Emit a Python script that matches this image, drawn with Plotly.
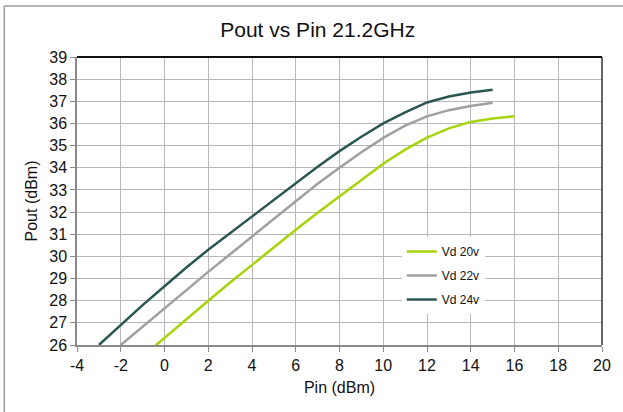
import plotly.graph_objects as go

# Output power vs input power at 21.2 GHz for three drain voltages
pin_20 = [-1, 0, 1, 2, 3, 4, 5, 6, 7, 8, 9, 10, 11, 12, 13, 14, 15, 16]
pout_20 = [25.48, 26.33, 27.17, 28.0, 28.82, 29.62, 30.42, 31.2, 31.97, 32.72,
           33.45, 34.18, 34.82, 35.36, 35.78, 36.07, 36.22, 36.33]

pin_22 = [-2, -1, 0, 1, 2, 3, 4, 5, 6, 7, 8, 9, 10, 11, 12, 13, 14, 15]
pout_22 = [26.0, 26.83, 27.66, 28.5, 29.3, 30.1, 30.9, 31.72, 32.52, 33.28,
           34.0, 34.7, 35.35, 35.9, 36.32, 36.6, 36.79, 36.93]

pin_24 = [-3, -2, -1, 0, 1, 2, 3, 4, 5, 6, 7, 8, 9, 10, 11, 12, 13, 14, 15]
pout_24 = [26.0, 26.9, 27.8, 28.65, 29.5, 30.3, 31.05, 31.8, 32.55, 33.3,
           34.05, 34.75, 35.4, 36.0, 36.5, 36.95, 37.22, 37.4, 37.52]

series = [
    ("Vd 20v", pin_20, pout_20, "#a6d40a"),
    ("Vd 22v", pin_22, pout_22, "#a0a0a0"),
    ("Vd 24v", pin_24, pout_24, "#2b5753"),
]

x_ticks = list(range(-4, 21, 2))
y_ticks = list(range(26, 40))

FONT = "Liberation Sans, Arial, sans-serif"
W, H = 623, 412
ML, MR, MT, MB = 77, 19, 57, 67

fig = go.Figure()
for name, x, y, color in series:
    fig.add_trace(go.Scatter(
        x=x, y=y, mode="lines", name=name, legendgroup=name,
        line=dict(color=color, width=2.5),
    ))

pw = W - ML - MR
ph = H - MT - MB

fig.update_layout(
    width=W, height=H,
    margin=dict(l=ML, r=MR, t=MT, b=MB),
    paper_bgcolor="white", plot_bgcolor="white",
    font=dict(family=FONT, color="#111111", size=16),
    title=dict(text="Pout vs Pin 21.2GHz", x=0.51, xanchor="center",
               y=1 - 30 / H, yanchor="middle",
               font=dict(size=21, family=FONT, color="#111111")),
    xaxis=dict(
        range=[-4, 20], tickvals=x_ticks, ticktext=[str(v) for v in x_ticks],
        showgrid=True, gridcolor="#b8b8b8", gridwidth=1,
        showline=True, linecolor="#8a8a8a", linewidth=1.5,
        ticks="outside", ticklen=5, tickcolor="#8a8a8a",
        zeroline=False, tickfont=dict(size=16),
        title=dict(text="Pin (dBm)", font=dict(size=16), standoff=9),
    ),
    yaxis=dict(
        range=[26, 39], tickvals=y_ticks, ticktext=[str(v) for v in y_ticks],
        showgrid=True, gridcolor="#b8b8b8", gridwidth=1,
        showline=True, linecolor="#8a8a8a", linewidth=1.5,
        ticks="outside", ticklen=5, tickcolor="#8a8a8a",
        zeroline=False, tickfont=dict(size=16),
        title=dict(text="Pout (dBm)", font=dict(size=16), standoff=8),
    ),
    legend=dict(
        x=(403 - ML) / pw, y=(H - MB - 237) / ph, xanchor="left", yanchor="top",
        bgcolor="white", borderwidth=0, font=dict(size=12, family=FONT),
        tracegroupgap=5, itemwidth=30,
    ),
    showlegend=True,
)

# Plot-area border on the top and right
fig.add_shape(type="line", xref="paper", yref="paper", x0=0, x1=1, y0=1, y1=1,
              line=dict(color="#111111", width=2))
fig.add_shape(type="line", xref="paper", yref="paper", x0=1, x1=1, y0=0, y1=1,
              line=dict(color="#333333", width=1.5))

# Chart frame on the left and top edges
fx0 = (4 - ML) / pw
fy1 = 1 + (MT - 6) / ph
fig.add_shape(type="line", xref="paper", yref="paper", x0=fx0, x1=fx0,
              y0=-(MB + 10) / ph, y1=fy1, line=dict(color="#9a9a9a", width=1.5))
fig.add_shape(type="line", xref="paper", yref="paper", x0=fx0, x1=1 + (MR + 10) / pw,
              y0=fy1, y1=fy1, line=dict(color="#9a9a9a", width=1.5))

fig.write_html("out.html")
